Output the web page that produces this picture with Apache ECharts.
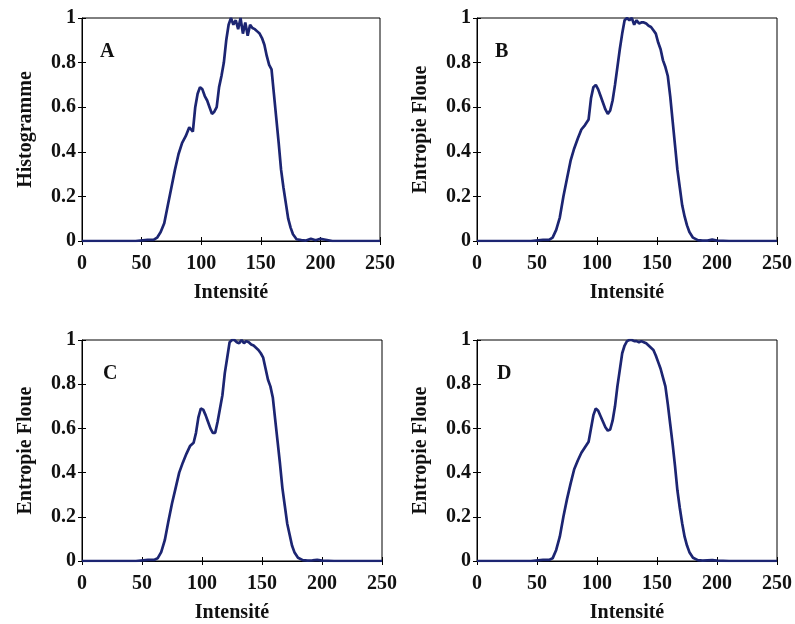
<!DOCTYPE html>
<html>
<head>
<meta charset="utf-8">
<script src="https://cdn.jsdelivr.net/npm/echarts@6/dist/echarts.min.js"></script>
<style>
  html, body { margin: 0; padding: 0; background: #fff; }
  #chart { width: 795px; height: 624px; }
</style>
</head>
<body>
<div id="chart"></div>
<script>
  // intensity values shared by the four curves
  var intensity = [0, 20, 45, 55, 60, 63, 66, 69, 72, 75, 78, 81, 84, 87, 90, 93,
    95, 97, 99, 101, 103, 105, 107, 109, 111, 113, 115, 117, 119, 121, 123, 125,
    127, 129, 131, 133, 135, 137, 139, 141, 143, 145, 147, 149, 151, 153, 155, 157,
    159, 161, 163, 165, 167, 169, 171, 173, 175, 177, 180, 184, 188, 192, 196, 200, 210, 250];

  var histA = [0, 0, 0, 0.005, 0.005, 0.015, 0.04, 0.08, 0.16, 0.24, 0.32, 0.39, 0.44, 0.47, 0.51, 0.49,
    0.6, 0.66, 0.69, 0.68, 0.65, 0.63, 0.6, 0.57, 0.58, 0.6, 0.69, 0.74, 0.8, 0.9, 0.97, 1.0,
    0.97, 0.99, 0.95, 1.0, 0.93, 0.98, 0.92, 0.97, 0.955, 0.95, 0.94, 0.93, 0.91, 0.88, 0.83, 0.79,
    0.77, 0.66, 0.55, 0.44, 0.32, 0.24, 0.17, 0.1, 0.06, 0.03, 0.008, 0.004, 0.002, 0.01, 0.003, 0.01, 0, 0];

  var entropyB = [0, 0, 0, 0.005, 0.005, 0.015, 0.05, 0.105, 0.2, 0.28, 0.36, 0.415, 0.46, 0.5, 0.52, 0.545,
    0.64, 0.69, 0.7, 0.68, 0.65, 0.62, 0.59, 0.57, 0.585, 0.63, 0.7, 0.78, 0.86, 0.93, 0.99, 1.0,
    0.99, 1.0, 0.97, 0.99, 0.975, 0.98, 0.98, 0.975, 0.965, 0.96, 0.945, 0.93, 0.89, 0.86, 0.81, 0.78,
    0.74, 0.65, 0.54, 0.43, 0.32, 0.24, 0.16, 0.11, 0.07, 0.04, 0.015, 0.004, 0.002, 0.002, 0.006, 0.002, 0, 0];

  var entropyC = [0, 0, 0, 0.005, 0.005, 0.012, 0.04, 0.094, 0.18, 0.26, 0.33, 0.4, 0.445, 0.485, 0.52, 0.535,
    0.58, 0.65, 0.69, 0.685, 0.66, 0.63, 0.6, 0.58, 0.58, 0.63, 0.69, 0.75, 0.85, 0.92, 0.99, 1.0,
    1.0, 0.99, 0.985, 1.0, 0.985, 0.995, 0.99, 0.98, 0.975, 0.965, 0.955, 0.94, 0.92, 0.87, 0.82, 0.79,
    0.74, 0.64, 0.54, 0.44, 0.33, 0.25, 0.17, 0.12, 0.07, 0.04, 0.015, 0.004, 0.002, 0.003, 0.005, 0.002, 0, 0];

  var entropyD = [0, 0, 0, 0.005, 0.005, 0.012, 0.05, 0.11, 0.2, 0.28, 0.35, 0.415, 0.455, 0.49, 0.515, 0.54,
    0.6, 0.66, 0.69, 0.68, 0.655, 0.63, 0.605, 0.59, 0.595, 0.635, 0.7, 0.79, 0.865, 0.94, 0.975, 0.995,
    1.0, 1.0, 0.995, 0.995, 0.99, 0.995, 0.99, 0.985, 0.975, 0.965, 0.955, 0.93, 0.9, 0.87, 0.83, 0.79,
    0.71, 0.62, 0.53, 0.43, 0.32, 0.24, 0.17, 0.11, 0.07, 0.04, 0.015, 0.004, 0.002, 0.003, 0.004, 0.002, 0, 0];

  var panelLetters = ['A', 'B', 'C', 'D'];
  var yNames = ['Histogramme', 'Entropie Floue', 'Entropie Floue', 'Entropie Floue'];
  var xName = 'Intensité';
  var curves = [histA, entropyB, entropyC, entropyD];

  var font = 'Liberation Serif';
  var grids = [
    {left: 82, top: 18, width: 298, height: 223},
    {left: 477, top: 18, width: 301, height: 223},
    {left: 82, top: 340, width: 300, height: 221},
    {left: 477, top: 340, width: 301, height: 221}
  ];
  var letterPos = [[100, 42], [495, 42], [103, 364], [497, 364]];

  var xAxes = [], yAxes = [], series = [], titles = [];
  var tickStyle = {inside: true, length: 4, lineStyle: {color: '#000', width: 1}};
  var labelStyle = {color: '#111', fontFamily: font, fontWeight: 'bold', fontSize: 20};

  grids.forEach(function (g, i) {
    g.show = true;
    g.borderColor = '#000';
    g.borderWidth = 1;
    g.backgroundColor = '#fff';

    xAxes.push({
      type: 'value', gridIndex: i, min: 0, max: 250, interval: 50,
      name: xName, nameLocation: 'middle', nameGap: 42,
      nameTextStyle: {color: '#111', fontFamily: font, fontWeight: 'bold', fontSize: 20},
      axisLine: {show: true, lineStyle: {color: '#000'}},
      axisTick: tickStyle,
      axisLabel: Object.assign({margin: 13}, labelStyle),
      splitLine: {show: false}
    });
    xAxes.push({
      type: 'value', gridIndex: i, min: 0, max: 250, interval: 50, position: 'top',
      axisLine: {show: false}, axisTick: tickStyle,
      axisLabel: {show: false}, splitLine: {show: false}
    });
    yAxes.push({
      type: 'value', gridIndex: i, min: 0, max: 1, interval: 0.2,
      name: yNames[i], nameLocation: 'middle', nameGap: 46,
      nameTextStyle: {color: '#111', fontFamily: font, fontWeight: 'bold', fontSize: 20},
      axisLine: {show: true, lineStyle: {color: '#000'}},
      axisTick: tickStyle,
      axisLabel: Object.assign({margin: 6}, labelStyle),
      splitLine: {show: false}
    });
    yAxes.push({
      type: 'value', gridIndex: i, min: 0, max: 1, interval: 0.2, position: 'right',
      axisLine: {show: false}, axisTick: tickStyle,
      axisLabel: {show: false}, splitLine: {show: false}
    });

    series.push({
      type: 'line',
      xAxisIndex: i * 2,
      yAxisIndex: i * 2,
      data: intensity.map(function (x, k) { return [x, curves[i][k]]; }),
      showSymbol: false,
      lineStyle: {color: '#1c2572', width: 2.7},
      animation: false
    });

    titles.push({
      text: panelLetters[i],
      left: letterPos[i][0],
      top: letterPos[i][1],
      padding: 0,
      textStyle: {color: '#111', fontFamily: font, fontWeight: 'bold', fontSize: 20}
    });
  });

  var myChart = echarts.init(document.getElementById('chart'));
  myChart.setOption({
    backgroundColor: '#fff',
    animation: false,
    title: titles,
    grid: grids,
    xAxis: xAxes,
    yAxis: yAxes,
    series: series
  });
</script>
</body>
</html>
